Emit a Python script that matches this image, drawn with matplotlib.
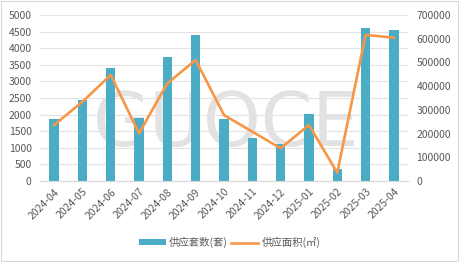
import numpy as np
import matplotlib
matplotlib.use("Agg")
import matplotlib.pyplot as plt
from matplotlib.patches import Rectangle

plt.rcParams["font.family"] = ["Noto Sans CJK SC", "DejaVu Sans"]

# ---------- 数据 ----------
months = ["2024-04", "2024-05", "2024-06", "2024-07", "2024-08", "2024-09",
          "2024-10", "2024-11", "2024-12", "2025-01", "2025-02", "2025-03", "2025-04"]
units = [1865, 2440, 3410, 1895, 3745, 4400, 1865, 1305, 1115, 2005, 350, 4610, 4550]
area = [236000, 334000, 447000, 201000, 412000, 510000, 278000, 208000, 138000,
        236000, 35000, 616000, 604000]

BAR_C = "#4bacc6"
LINE_C = "#f79646"
TXT_C = "#595959"

fig = plt.figure(figsize=(4.59, 2.62), dpi=100)
ax = fig.add_axes([0.087, 0.309, 0.802, 0.634])
ax2 = ax.twinx()

x = np.arange(len(months))
ax.bar(x, units, width=0.33, color=BAR_C, zorder=2, label="供应套数(套)")
ax2.plot(x, area, color=LINE_C, lw=1.9, zorder=3, label="供应面积(㎡)")

ax.set_xlim(-0.5, len(months) - 0.5)
ax.set_ylim(0, 5000)
ax.set_yticks(range(0, 5001, 500))
ax2.set_ylim(0, 700000)
ax2.set_yticks(range(0, 700001, 100000))

ax.grid(axis="y", color="#e3e3e3", lw=0.8, zorder=0)
for a in (ax, ax2):
    for s in a.spines.values():
        s.set_visible(False)
    a.tick_params(length=0, colors=TXT_C, labelsize=7.5)
ax.spines["bottom"].set_visible(True)
ax.spines["bottom"].set_color("#d9d9d9")

ax.set_xticks(x)
ax.set_xticklabels(months, rotation=45, ha="right", rotation_mode="anchor")
ax.tick_params(axis="x", pad=4)
ax.tick_params(axis="y", pad=6)
ax2.tick_params(axis="y", pad=6)

# 水印
ax.text(0.505, 0.337, "GUOCE", transform=ax.transAxes, ha="center", va="center",
        fontsize=53, color="#e2e2e2", family="DejaVu Sans", zorder=1)
ax.patch.set_visible(False)

h1, l1 = ax.get_legend_handles_labels()
h2, l2 = ax2.get_legend_handles_labels()
fig.legend(h1 + h2, l1 + l2, loc="center", bbox_to_anchor=(0.5, 0.075), ncol=2,
           frameon=False, fontsize=7.5, labelcolor=TXT_C, handlelength=2.6,
           handleheight=0.5, columnspacing=0.3, handletextpad=0.3)

fig.patches.append(Rectangle((0.002, 0.004), 0.995, 0.992, transform=fig.transFigure,
                             fill=False, ec="#d9d9d9", lw=0.8))

fig.savefig("out.png", dpi=100)
